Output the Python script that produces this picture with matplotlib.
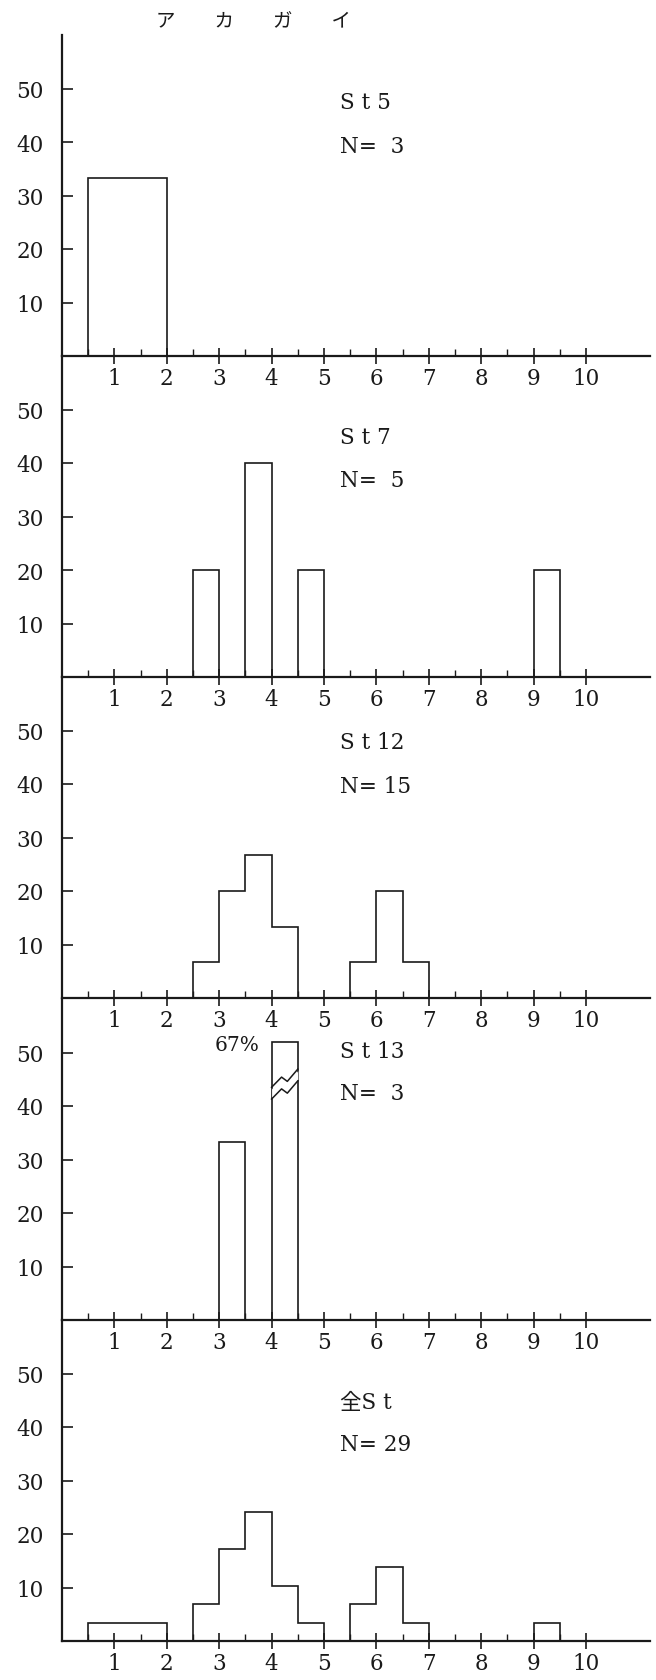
import numpy as np
import matplotlib.pyplot as plt

plt.rcParams['font.family'] = ['DejaVu Serif', 'Noto Sans CJK JP']

# shell length classes (cm), 0.5 cm bins from 0.5 to 10.0
edges = np.arange(0.5, 10.01, 0.5)

# percent frequency per bin
st5 = [33.3, 33.3, 33.3, 0, 0, 0, 0, 0, 0, 0, 0, 0, 0, 0, 0, 0, 0, 0, 0]
st7 = [0, 0, 0, 0, 20, 0, 40, 0, 20, 0, 0, 0, 0, 0, 0, 0, 0, 20, 0]
st12 = [0, 0, 0, 0, 6.7, 20, 26.7, 13.3, 0, 0, 6.7, 20, 6.7, 0, 0, 0, 0, 0, 0]
st13 = [0, 0, 0, 0, 0, 33.3, 0, 66.7, 0, 0, 0, 0, 0, 0, 0, 0, 0, 0, 0]
st_all = [3.4, 3.4, 3.4, 0, 6.9, 17.2, 24.1, 10.3, 3.4, 0, 6.9, 13.8, 3.4, 0, 0, 0, 0, 3.4, 0]

panels = [
  (st5, "S t 5", "N=  3", 47.5, 39.3),
  (st7, "S t 7", "N=  5", 44.9, 36.8),
  (st12, "S t 12", "N= 15", 47.9, 39.6),
  (st13, "S t 13", "N=  3", 50.3, 42.4),
  (st_all, "全S t", "N= 29", 44.7, 36.8),
]

CAP = 52     # taller bars are drawn broken at this height
INK = '#1a1a1a'
FS = 15.5

W, H = 656, 1681
fig = plt.figure(figsize=(W / 100, H / 100), dpi=100)

x0_px, unit_px = 62, 52.4
xmax = 11.22
baselines = [357, 678, 999, 1321, 1642]
panel_h = 321

for (vals, name, ntext, y_name, y_n), base in zip(panels, baselines):
  ax = fig.add_axes([x0_px / W, 1 - base / H, xmax * unit_px / W, panel_h / H])
  ax.patch.set_visible(False)
  vals = np.array(vals, dtype=float)
  shown = np.minimum(vals, CAP)
  ax.stairs(shown, edges, baseline=0, fill=False, color=INK, lw=1.2)

  # broken bars for values above the cap
  for i in np.where(vals > CAP)[0]:
    a, b = edges[i], edges[i + 1]
    fx = a + (b - a) * np.array([0, 0.38, 0.6, 1.0])
    lower = np.array([41.3, 43.2, 42.4, 44.7])
    upper = lower + 2.2
    ax.fill_between(fx, lower + 0.3, upper - 0.3, color='white', zorder=3,
                    lw=0)
    ax.plot(fx, lower, color=INK, lw=1.1, zorder=4)
    ax.plot(fx, upper, color=INK, lw=1.1, zorder=4)
    ax.text(a - 0.65, CAP - 0.5, "{:.0f}%".format(vals[i]), ha='center',
            va='center', fontsize=14.5, color=INK)

  ax.text(5.3, y_name, name, ha='left', va='center', fontsize=FS, color=INK)
  ax.text(5.3, y_n, ntext, ha='left', va='center', fontsize=FS, color=INK)

  ax.set_xlim(0, xmax)
  ax.set_ylim(0, 60)
  ax.set_xticks(range(1, 11))
  ax.set_xticks(np.arange(0.5, 10.0, 1.0), minor=True)
  ax.set_yticks([10, 20, 30, 40, 50])
  ax.tick_params(axis='x', which='major', direction='inout', length=12,
                 width=1.2, pad=2, labelsize=FS, colors=INK)
  ax.tick_params(axis='x', which='minor', direction='in', length=5, width=1,
                 colors=INK)
  ax.tick_params(axis='y', direction='in', length=8, width=1.2, pad=13,
                 labelsize=FS, colors=INK)
  for s in ['top', 'right']:
    ax.spines[s].set_visible(False)
  for s in ['left', 'bottom']:
    ax.spines[s].set_linewidth(1.6)
    ax.spines[s].set_color(INK)

fig.text(254 / W, 1 - 22 / H, "ア　　カ　　ガ　　イ", ha='center', va='center',
         fontsize=14, family='Noto Sans CJK JP', color=INK)

fig.savefig("out.png", dpi=100)
